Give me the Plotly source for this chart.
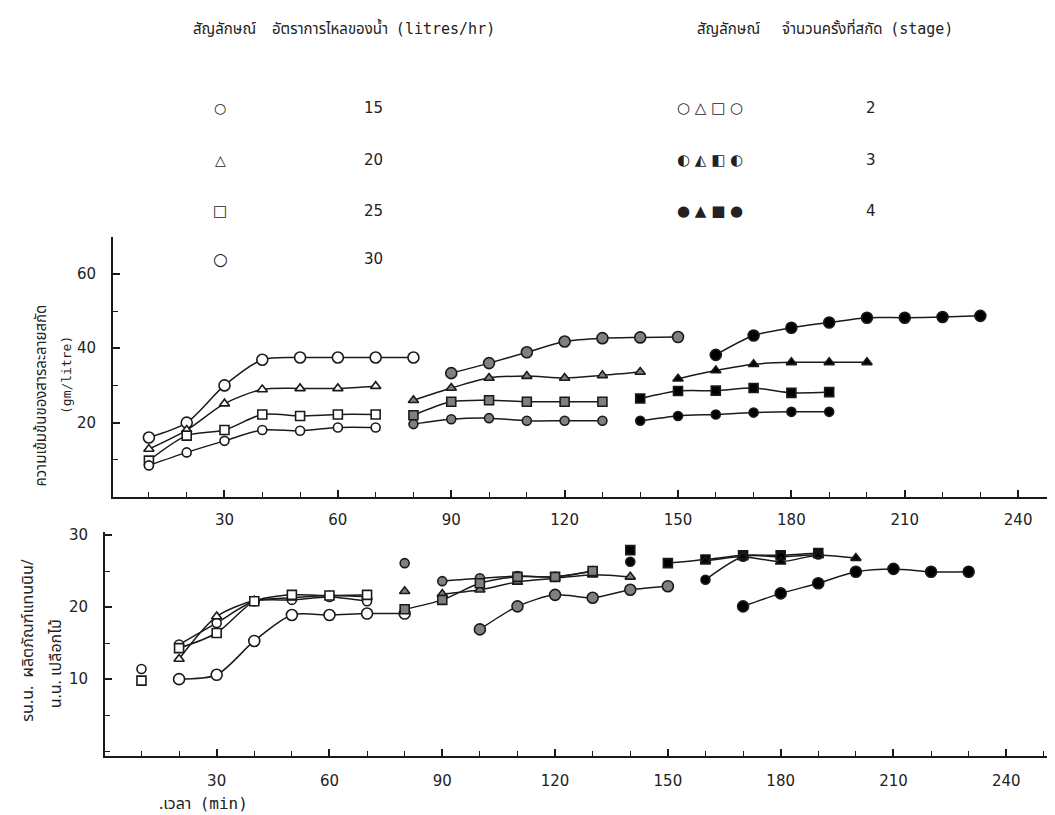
import plotly.graph_objects as go

# ---------------- data ----------------
# Top panel: extract concentration (gm/litre) vs time (min)
top_s2_t_c30 = [10, 20, 30, 40, 50, 60, 70, 80]
top_s2_c30 = [16.0, 20.0, 30.0, 36.9, 37.5, 37.5, 37.5, 37.5]
top_s2_t = [10, 20, 30, 40, 50, 60, 70]
top_s2_tri20 = [12.9, 18.0, 25.1, 28.9, 29.2, 29.2, 29.8]
top_s2_sq25 = [9.8, 16.5, 18.0, 22.2, 21.8, 22.2, 22.2]
top_s2_c15 = [8.5, 12.0, 15.1, 18.0, 17.8, 18.7, 18.7]

top_s3_t_c30 = [90, 100, 110, 120, 130, 140, 150]
top_s3_c30 = [33.3, 36.0, 38.9, 41.8, 42.7, 42.9, 43.0]
top_s3_t_tri20 = [80, 90, 100, 110, 120, 130, 140]
top_s3_tri20 = [26.0, 29.3, 32.0, 32.5, 32.0, 32.7, 33.6]
top_s3_t = [80, 90, 100, 110, 120, 130]
top_s3_sq25 = [22.0, 25.6, 26.0, 25.6, 25.6, 25.6]
top_s3_c15 = [19.6, 20.9, 21.2, 20.5, 20.5, 20.5]

top_s4_t_c30 = [160, 170, 180, 190, 200, 210, 220, 230]
top_s4_c30 = [38.2, 43.4, 45.5, 46.9, 48.2, 48.2, 48.4, 48.7]
top_s4_t_tri20 = [150, 160, 170, 180, 190, 200]
top_s4_tri20 = [31.8, 34.0, 35.7, 36.2, 36.2, 36.2]
top_s4_t = [140, 150, 160, 170, 180, 190]
top_s4_sq25 = [26.5, 28.5, 28.6, 29.3, 28.0, 28.2]
top_s4_c15 = [20.5, 21.8, 22.2, 22.7, 22.9, 22.9]

# Bottom panel: tannin product yield vs time (min); first sample of a stage may stand alone
bot_s2_t_c30 = [20, 30, 40, 50, 60, 70, 80]
bot_s2_c30 = [10.0, 10.6, 15.3, 18.9, 18.9, 19.1, 19.1]
bot_s2_t_c15 = [10, 20, 30, 40, 50, 60, 70]
bot_s2_c15 = [11.4, 14.8, 17.8, 20.8, 21.0, 21.4, 20.8]
bot_s2_t_tri20 = [20, 30, 40, 50, 60, 70]
bot_s2_tri20 = [12.8, 18.7, 20.9, 21.3, 21.6, 21.4]
bot_s2_t_sq25 = [10, 20, 30, 40, 50, 60, 70]
bot_s2_sq25 = [9.8, 14.3, 16.4, 20.8, 21.7, 21.6, 21.7]

bot_s3_t_c15 = [80, 90, 100, 110, 120, 130]
bot_s3_c15 = [26.1, 23.6, 24.0, 24.3, 24.2, 25.0]
bot_s3_t_tri20 = [80, 90, 100, 110, 120, 130, 140]
bot_s3_tri20 = [22.2, 21.8, 22.4, 23.5, 24.0, 24.5, 24.2]
bot_s3_t_sq25 = [80, 90, 100, 110, 120, 130]
bot_s3_sq25 = [19.7, 21.0, 23.3, 24.2, 24.2, 25.0]
bot_s3_t_c30 = [100, 110, 120, 130, 140, 150]
bot_s3_c30 = [16.9, 20.1, 21.7, 21.3, 22.4, 22.9]

bot_s4_t_sq25 = [140, 150, 160, 170, 180, 190]
bot_s4_sq25 = [27.9, 26.1, 26.6, 27.2, 27.2, 27.5]
bot_s4_t_c15 = [140, 160, 170, 180, 190]
bot_s4_c15 = [26.3, 23.8, 27.0, 27.0, 27.3]
bot_s4_t_tri20 = [160, 170, 180, 190, 200]
bot_s4_tri20 = [26.4, 27.0, 26.3, 27.2, 26.8]
bot_s4_t_c30 = [170, 180, 190, 200, 210, 220, 230]
bot_s4_c30 = [20.1, 21.9, 23.3, 24.9, 25.3, 24.9, 24.9]

x_ticks = [30, 60, 90, 120, 150, 180, 210, 240]
legend_flow = ["15", "20", "25", "30"]
legend_stage = ["2", "3", "4"]

# ---------------- styles ----------------
SYM = {"c15": ("circle", 9), "tri20": ("triangle-up", 9), "sq25": ("square", 9), "c30": ("circle", 11)}
FILL = {2: "white", 3: "#808080", 4: "black"}
INK = "#1a1a1a"

fig = go.Figure()


def add_series(t, v, kind, stage, xa, ya, n_iso=0):
    sym, size = SYM[kind]
    lt, lv = t[n_iso:], v[n_iso:]
    if len(lt) > 1:
        fig.add_trace(go.Scatter(x=lt, y=lv, mode="lines", xaxis=xa, yaxis=ya,
                                 line=dict(color=INK, width=1.5, shape="spline", smoothing=0.8),
                                 showlegend=False, hoverinfo="skip"))
    fig.add_trace(go.Scatter(x=t, y=v, mode="markers", xaxis=xa, yaxis=ya,
                             marker=dict(symbol=sym, size=size, color=FILL[stage],
                                         line=dict(color=INK, width=1.6)),
                             showlegend=False))


# top panel
add_series(top_s2_t_c30, top_s2_c30, "c30", 2, "x", "y")
add_series(top_s2_t, top_s2_tri20, "tri20", 2, "x", "y")
add_series(top_s2_t, top_s2_sq25, "sq25", 2, "x", "y")
add_series(top_s2_t, top_s2_c15, "c15", 2, "x", "y")
add_series(top_s3_t_c30, top_s3_c30, "c30", 3, "x", "y")
add_series(top_s3_t_tri20, top_s3_tri20, "tri20", 3, "x", "y")
add_series(top_s3_t, top_s3_sq25, "sq25", 3, "x", "y")
add_series(top_s3_t, top_s3_c15, "c15", 3, "x", "y")
add_series(top_s4_t_c30, top_s4_c30, "c30", 4, "x", "y")
add_series(top_s4_t_tri20, top_s4_tri20, "tri20", 4, "x", "y")
add_series(top_s4_t, top_s4_sq25, "sq25", 4, "x", "y")
add_series(top_s4_t, top_s4_c15, "c15", 4, "x", "y")

# bottom panel
add_series(bot_s2_t_c30, bot_s2_c30, "c30", 2, "x2", "y2")
add_series(bot_s2_t_c15, bot_s2_c15, "c15", 2, "x2", "y2", n_iso=1)
add_series(bot_s2_t_tri20, bot_s2_tri20, "tri20", 2, "x2", "y2")
add_series(bot_s2_t_sq25, bot_s2_sq25, "sq25", 2, "x2", "y2", n_iso=1)
add_series(bot_s3_t_c15, bot_s3_c15, "c15", 3, "x2", "y2", n_iso=1)
add_series(bot_s3_t_tri20, bot_s3_tri20, "tri20", 3, "x2", "y2", n_iso=1)
add_series(bot_s3_t_sq25, bot_s3_sq25, "sq25", 3, "x2", "y2")
add_series(bot_s3_t_c30, bot_s3_c30, "c30", 3, "x2", "y2")
add_series(bot_s4_t_sq25, bot_s4_sq25, "sq25", 4, "x2", "y2", n_iso=1)
add_series(bot_s4_t_c15, bot_s4_c15, "c15", 4, "x2", "y2", n_iso=1)
add_series(bot_s4_t_tri20, bot_s4_tri20, "tri20", 4, "x2", "y2")
add_series(bot_s4_t_c30, bot_s4_c30, "c30", 4, "x2", "y2")

W, H = 1055, 815


def px_x(p):
    return p / W


def px_y(p):
    return 1 - p / H


tickfont = dict(family="DejaVu Sans", size=15, color="#222")
ax_common = dict(showline=True, linecolor=INK, linewidth=2, showgrid=False, zeroline=False,
                 ticks="inside", ticklen=7, tickwidth=1.5, tickcolor=INK, tickfont=tickfont)

fig.update_layout(
    width=W, height=H, margin=dict(l=0, r=0, t=0, b=0),
    paper_bgcolor="white", plot_bgcolor="rgba(0,0,0,0)",
    xaxis=dict(domain=[px_x(105), px_x(1040)], range=[0.5, 247.9], anchor="y",
               tickvals=x_ticks, minor=dict(dtick=10, tick0=0, ticks="inside", ticklen=5,
                                            tickcolor=INK, tickwidth=1.2),
               ticklabelstandoff=8, **ax_common),
    yaxis=dict(domain=[px_y(487), px_y(225)], range=[-0.1, 69.8], anchor="x",
               tickvals=[20, 40, 60], minor=dict(dtick=10, tick0=0, ticks="inside", ticklen=5,
                                                 tickcolor=INK, tickwidth=1.2),
               ticklabelstandoff=12, **ax_common),
    xaxis2=dict(domain=[px_x(97), px_x(1040)], range=[0.3, 251.1], anchor="y2",
                tickvals=x_ticks, minor=dict(dtick=10, tick0=0, ticks="inside", ticklen=5,
                                             tickcolor=INK, tickwidth=1.2),
                ticklabelstandoff=10, **ax_common),
    yaxis2=dict(domain=[px_y(747), px_y(522)], range=[-0.6, 30.4], anchor="x2",
                tickvals=[10, 20, 30], minor=dict(dtick=5, tick0=0, ticks="inside", ticklen=5,
                                                  tickcolor=INK, tickwidth=1.2),
                ticklabelstandoff=12, **ax_common),
)

thai = "Noto Sans Thai, Noto Sans, DejaVu Sans, sans-serif"
mono = "DejaVu Sans Mono"
ann = []


def text(x, y, s, size=14, xanchor="center", yanchor="middle", angle=0, family=thai):
    ann.append(dict(x=px_x(x), y=px_y(y), xref="paper", yref="paper", text=s, showarrow=False,
                    xanchor=xanchor, yanchor=yanchor, textangle=angle,
                    font=dict(family=family, size=size, color="#222")))


def monospan(s):
    return "<span style='font-family:" + mono + "'>" + s + "</span>"


# legend headers
text(216, 16, "สัญลักษณ์", 15)
text(262, 16, "อัตราการไหลของน้ำ  " + monospan("(litres/hr)"), 15, xanchor="left")
text(720, 16, "สัญลักษณ์", 15)
text(772, 16, "จำนวนครั้งที่สกัด  " + monospan("(stage)"), 15, xanchor="left")

flow_syms = ["○", "△", "□", "○"]
flow_sizes = [14, 14, 15, 17]
row_y = [95, 147, 198, 247]
for s, sz, lab, y in zip(flow_syms, flow_sizes, legend_flow, row_y):
    text(212, y, s, sz, family="DejaVu Sans")
    text(365, y, lab, 15, family="DejaVu Sans")

stage_syms = ["○ △ □ ○", "◐ ◭ ◧ ◐", "● ▲ ■ ●"]
for s, lab, y in zip(stage_syms, legend_stage, row_y[:3]):
    text(702, y, s, 15, family="DejaVu Sans")
    text(863, y, lab, 15, family="DejaVu Sans")

# axis titles
text(33, 478, "ความเข้มข้นของสารละลายสกัด", 15, yanchor="bottom", angle=-90)
text(58, 405, monospan("(gm/litre)"), 13, yanchor="bottom", angle=-90)
text(20, 715, "รน.น.  ผลิตภัณฑ์แทนนิน/", 16, yanchor="bottom", angle=-90)
text(48, 702, "น.น. เปลือกไม้", 16, yanchor="bottom", angle=-90)
text(195, 796, ".เวลา  " + monospan("(min)"), 16)

fig.update_layout(annotations=ann)
fig.write_html("out.html")
